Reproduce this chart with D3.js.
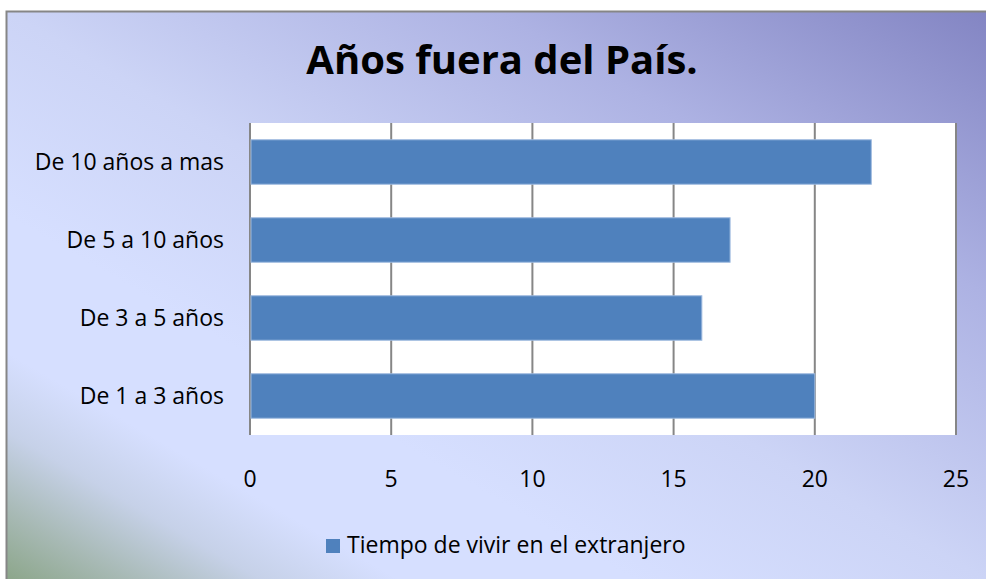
<!DOCTYPE html>
<html>
<head>
<meta charset="utf-8">
<script src="https://cdn.jsdelivr.net/npm/d3@7"></script>
<style>
    body { margin: 0; background: #fff; }
    svg text { font-family: "Open Sans", sans-serif; fill: #000; }
</style>
</head>
<body>
<svg id="chart"></svg>
<script>
const categories = ["De 10 años a mas", "De 5 a 10 años", "De 3 a 5 años", "De 1 a 3 años"];
const values = [22, 17, 16, 20];
const xTicks = [0, 5, 10, 15, 20, 25];
const seriesName = "Tiempo de vivir en el extranjero";
const chartTitle = "Años fuera del País.";

class Barchart {
    margin = {
        top: 123, right: 30, bottom: 144, left: 250
    }

    constructor(svg, width = 986, height = 579) {
        this.svg = svg;
        this.outerWidth = width;
        this.outerHeight = height;
        this.width = width - this.margin.left - this.margin.right;
        this.height = height - this.margin.top - this.margin.bottom;
    }

    initialize() {
        this.svg = d3.select(this.svg)
            .attr("width", this.outerWidth)
            .attr("height", this.outerHeight);

        // chart area background (office style diagonal gradient)
        const grad = this.svg.append("defs").append("linearGradient")
            .attr("id", "bg")
            .attr("x1", 0).attr("y1", 1)
            .attr("x2", 1).attr("y2", 0);
        [[0, "#8ca68a"], [0.06, "#a7b9b4"], [0.13, "#c6d1e8"], [0.2, "#d6dfff"], [0.32, "#d6dfff"],
         [0.5, "#ccd4f6"], [0.75, "#adb2e3"], [1, "#8385c3"]]
            .forEach(([o, c]) => grad.append("stop").attr("offset", o).attr("stop-color", c));

        this.svg.append("rect")
            .attr("x", 6).attr("y", 11)
            .attr("width", this.outerWidth - 6)
            .attr("height", this.outerHeight - 11)
            .attr("fill", "url(#bg)");

        this.svg.append("path")
            .attr("d", `M6.5,${this.outerHeight}V11.5H${this.outerWidth}`)
            .attr("fill", "none")
            .attr("stroke", "#868686")
            .attr("stroke-width", 2);

        this.container = this.svg.append("g")
            .attr("transform", `translate(${this.margin.left}, ${this.margin.top})`);

        this.xScale = d3.scaleLinear();
        this.yScale = d3.scaleBand();
    }

    update() {
        this.xScale.domain([xTicks[0], xTicks[xTicks.length - 1]]).range([0, this.width]);
        this.yScale.domain(categories).range([0, this.height])
            .paddingInner(0.43).paddingOuter(0.215);

        this.container.append("rect")
            .attr("width", this.width)
            .attr("height", this.height)
            .attr("fill", "#fff");

        this.container.selectAll(".grid")
            .data(xTicks)
            .join("line")
            .attr("class", "grid")
            .attr("x1", d => this.xScale(d))
            .attr("x2", d => this.xScale(d))
            .attr("y1", 0)
            .attr("y2", this.height)
            .attr("stroke", "#868686")
            .attr("stroke-width", 2);

        this.container.selectAll(".bar")
            .data(values)
            .join("rect")
            .attr("class", "bar")
            .attr("x", this.xScale(0) + 1)
            .attr("y", (d, i) => this.yScale(categories[i]))
            .attr("width", d => this.xScale(d) - this.xScale(0) - 1)
            .attr("height", this.yScale.bandwidth())
            .attr("fill", "#4f81bd")
            .attr("stroke", "#9db9de")
            .attr("stroke-width", 1);

        // x tick labels
        this.container.selectAll(".xlabel")
            .data(xTicks)
            .join("text")
            .attr("class", "xlabel")
            .attr("x", d => this.xScale(d))
            .attr("y", this.height + 52)
            .attr("text-anchor", "middle")
            .style("font-size", "23px")
            .text(d => d);

        // category labels
        this.container.selectAll(".ylabel")
            .data(categories)
            .join("text")
            .attr("class", "ylabel")
            .attr("x", -26)
            .attr("y", d => this.yScale(d) + this.yScale.bandwidth() / 2)
            .attr("dy", "0.36em")
            .attr("text-anchor", "end")
            .style("font-size", "23px")
            .text(d => d);

        this.svg.append("text")
            .attr("x", 502)
            .attr("y", 74)
            .attr("text-anchor", "middle")
            .style("font-size", "40px")
            .style("font-weight", "bold")
            .text(chartTitle);

        const legend = this.svg.append("g")
            .attr("transform", "translate(326, 539)");
        legend.append("rect")
            .attr("width", 14)
            .attr("height", 14)
            .attr("fill", "#4f81bd");
        legend.append("text")
            .attr("x", 21)
            .attr("y", 14)
            .style("font-size", "23px")
            .text(seriesName);
    }
}

const chart = new Barchart("#chart");
chart.initialize();
chart.update();
</script>
</body>
</html>
